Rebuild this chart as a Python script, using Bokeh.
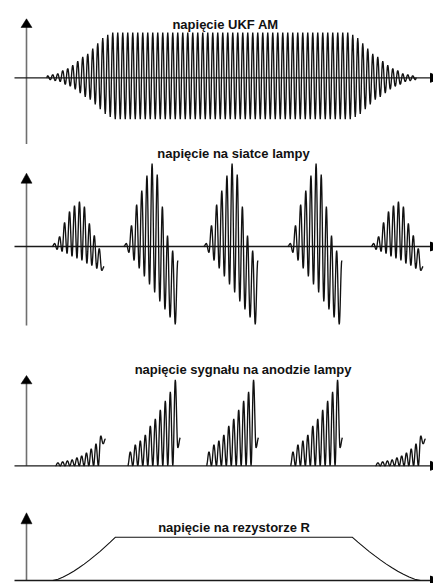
import numpy as np
from bokeh.plotting import figure
from bokeh.layouts import column
from bokeh.models import Range1d, Label
from bokeh.embed import file_html
from bokeh.resources import INLINE

# ---------------- data ----------------
TITLES = ["napięcie UKF AM", "napięcie na siatce lampy",
          "napięcie sygnału na anodzie lampy", "napięcie na rezystorze R"]

# panel 1: AM signal - amplitude of every carrier cycle
UKF_START, UKF_END = 46, 416
UKF_RAMP_UP = [2, 3, 4, 7, 9, 12, 16, 20, 23, 28, 33, 38, 41]
UKF_FLAT = [43.3] * 48
UKF_RAMP_DOWN = UKF_RAMP_UP[::-1]
UKF_OFFSET = 2.0

# panel 2: grid voltage - bursts (start, width), peak tops and trough bottoms of each cycle
GRID_STARTS = [51.7, 123.3, 203.3, 287.3, 370.7]
GRID_WIDTHS = [52, 54, 54, 54, 52]
GRID_SMALL_PEAKS = [3, 10, 24, 35, 41, 45, 40, 23, 11, -2, -20]
GRID_SMALL_TROUGHS = [0, -3, -5, -7, -10, -12, -14, -17, -19, -22, -24]
GRID_BIG_PEAKS = [3, 21, 42, 56, 71, 83, 72, 40, 11, -4, -14]
GRID_BIG_TROUGHS = [0, -6, -14, -22, -30, -38, -46, -55, -63, -71, -78]
GRID_KIND = ["small", "big", "big", "big", "small"]

# panel 3: anode signal
ANODE_STARTS = [55, 127.3, 206, 290, 375]
ANODE_WIDTHS = [50, 52.5, 52, 52, 50]
ANODE_SMALL_PEAKS = [3, 4, 5, 6, 8, 10, 13, 17, 22, 30, 27]
ANODE_SMALL_TROUGHS = [0, 0, 0, 0, 0, 0, 0, 0, 0, 0, 22]
ANODE_BIG_PEAKS = [14, 21, 25, 31, 40, 47, 56, 65, 74, 86, 28]
ANODE_BIG_TROUGHS = [0, 0, 0, 0, 0, 0, 0, 0, 0, 0, 18]
ANODE_KIND = ["small", "big", "big", "big", "small"]

# panel 4: voltage on resistor R (rise, flat top, fall)
R_START, R_TOP_START, R_TOP_END, R_END = 52.3, 115, 351.7, 420
R_RISE = [0, 1.3, 3.5, 6.2, 9.3, 12.7, 16.4, 20.4, 24.6, 28.9, 33.6, 38.3, 43.3]
R_FALL = R_RISE[::-1]

# ---------------- helpers ----------------
WAVE = "#111111"
VAXIS = "#6f6f6f"
HAXIS = "#1a1a1a"
FONT = "Liberation Sans"
W = 433


def smooth_through(xs, ys, n=8):
    """Draw a smooth wave through successive extrema (half-cosine segments)."""
    ox, oy = [xs[0]], [ys[0]]
    s = np.linspace(0, 1, n + 1)[1:]
    w = (1 - np.cos(np.pi * s)) / 2
    for i in range(len(xs) - 1):
        ox.extend(xs[i] + (xs[i + 1] - xs[i]) * s)
        oy.extend(ys[i] + (ys[i + 1] - ys[i]) * w)
    return ox, oy


def burst(start, width, peaks, troughs):
    vals = []
    for t, p in zip(troughs, peaks):
        vals += [t, p]
    half = width / (len(vals) - 1)
    xs = [start + i * half for i in range(len(vals))]
    return smooth_through(xs, vals)


def make_fig(h, y0, y1):
    p = figure(width=W, height=h, x_range=Range1d(0, 433), y_range=Range1d(y0, y1),
               output_backend="svg", toolbar_location=None, min_border=0,
               x_axis_type=None, y_axis_type=None)
    p.outline_line_color = None
    p.xgrid.visible = False
    p.ygrid.visible = False
    p.background_fill_color = "white"
    p.border_fill_color = "white"
    return p


def axes(p, tip, base, bottom):
    p.line([26, 26], [bottom, base + 1], line_color=VAXIS, line_width=1.6)
    p.patch([20.5, 31.5, 26], [base, base, tip], fill_color="black", line_color="black", line_width=0.5)
    p.line([14, 431], [0, 0], line_color=HAXIS, line_width=1.3)
    p.patch([430, 430, 440], [4.5, -4.5, 0], fill_color="black", line_color="black")


def title(p, text, x, y):
    p.add_layout(Label(x=x, y=y, text=text, text_font=FONT, text_font_style="bold",
                       text_font_size="13px", text_align="center", text_baseline="alphabetic",
                       text_color="#111111"))


# ---------------- panel 1 ----------------
p1 = make_fig(144, -66.7, 77.3)
axes(p1, 59, 50.3, -80)
amps = UKF_RAMP_UP + UKF_FLAT + UKF_RAMP_DOWN
T = (UKF_END - UKF_START) / len(amps)
xs, ys = [UKF_START], [0.0]
mx = max(amps)
for k, a in enumerate(amps):
    off = UKF_OFFSET * a / mx
    xs += [UKF_START + (k + 0.25) * T, UKF_START + (k + 0.75) * T]
    ys += [a + off, -a + off]
xs.append(UKF_END)
ys.append(0.0)
wx, wy = smooth_through(xs, ys, n=6)
p1.line(wx, wy, line_color=WAVE, line_width=1.35)
title(p1, TITLES[0], 225, 53.3)

# ---------------- panel 2 ----------------
p2 = make_fig(196, -94, 102)
axes(p2, 73.3, 63.3, -79)
for st, wd, kind in zip(GRID_STARTS, GRID_WIDTHS, GRID_KIND):
    if kind == "big":
        bx, by = burst(st, wd, GRID_BIG_PEAKS, GRID_BIG_TROUGHS)
    else:
        bx, by = burst(st, wd, GRID_SMALL_PEAKS, GRID_SMALL_TROUGHS)
    p2.line(bx, by, line_color=WAVE, line_width=1.35)
title(p2, TITLES[1], 233, 92.7)

# ---------------- panel 3 ----------------
p3 = make_fig(138, -12.7, 125.3)
axes(p3, 90.3, 82, 0)
for st, wd, kind in zip(ANODE_STARTS, ANODE_WIDTHS, ANODE_KIND):
    if kind == "big":
        bx, by = burst(st, wd, ANODE_BIG_PEAKS, ANODE_BIG_TROUGHS)
    else:
        bx, by = burst(st, wd, ANODE_SMALL_PEAKS, ANODE_SMALL_TROUGHS)
    p3.line(bx, by, line_color=WAVE, line_width=1.35)
title(p3, TITLES[2], 242.5, 96)

# ---------------- panel 4 ----------------
p4 = make_fig(105, -3, 102)
axes(p4, 67.7, 56.7, 0)
n = len(R_RISE) - 1
rx = [R_START + (R_TOP_START - R_START) * i / n for i in range(n + 1)]
fx = [R_TOP_END + (R_END - R_TOP_END) * i / n for i in range(n + 1)]
p4.line(rx + fx, R_RISE + R_FALL, line_color=WAVE, line_width=1.1)
title(p4, TITLES[3], 233.5, 52.7)

layout = column(p1, p2, p3, p4, spacing=0)
open("out.html", "w").write(file_html(layout, INLINE))
